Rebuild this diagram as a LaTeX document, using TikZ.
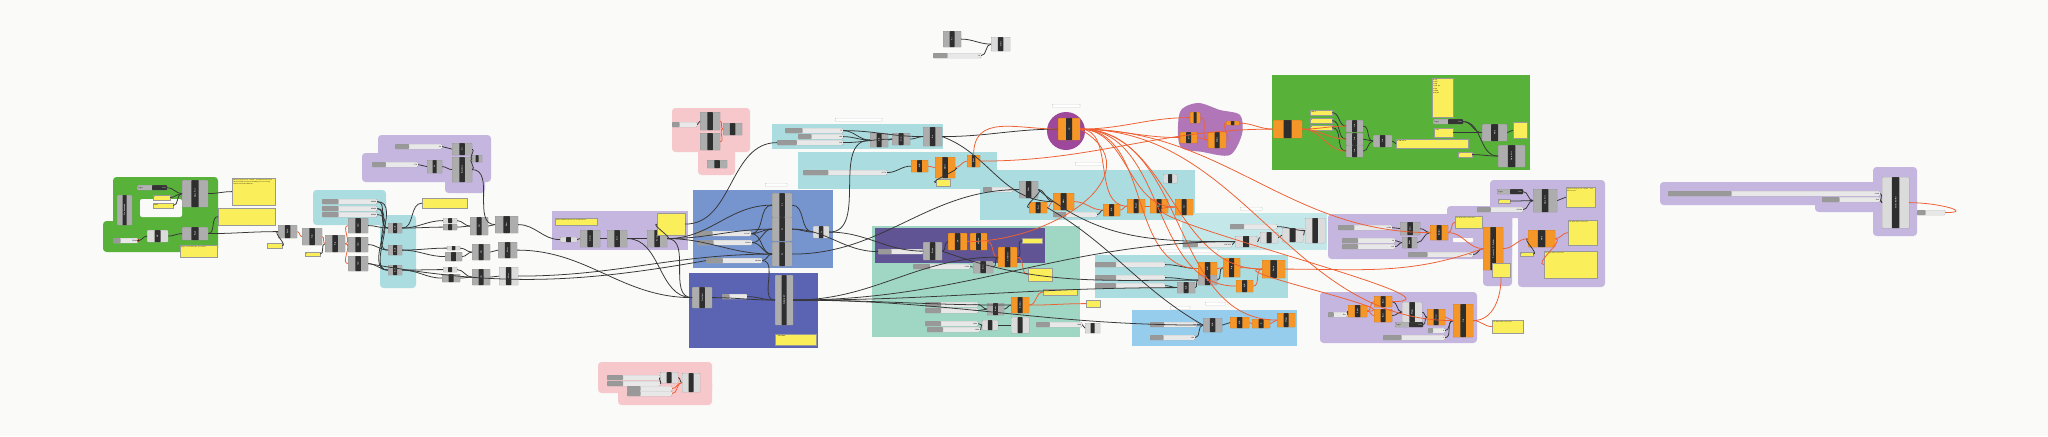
\documentclass[tikz,border=0pt]{standalone}
\usetikzlibrary{calc,positioning}

\definecolor{canvas}{RGB}{250,250,249}
\definecolor{ghorange}{RGB}{244,150,40}
\definecolor{ghyellow}{RGB}{250,238,90}
\definecolor{ghwire}{RGB}{55,55,55}
\definecolor{ghred}{RGB}{240,95,50}
\definecolor{grpgreen}{RGB}{88,178,58}
\definecolor{grppurple}{RGB}{196,182,222}
\definecolor{grpteal}{RGB}{170,220,224}
\definecolor{grpmint}{RGB}{160,214,196}
\definecolor{grpblue}{RGB}{118,148,206}
\definecolor{grpnavy}{RGB}{90,100,178}
\definecolor{grpplum}{RGB}{96,84,148}
\definecolor{grpmagenta}{RGB}{158,72,156}
\definecolor{grporchid}{RGB}{176,118,184}
\definecolor{grppink}{RGB}{246,200,204}
\definecolor{grpsky}{RGB}{150,204,236}

% component, slider, panel, toggle, group tag
\newcommand{\ghc}[6][comp]{%
  \node[#1, minimum width=#4*0.05cm, minimum height=#5*0.05cm] (#2) at (#3) {};
  \node[clbl] at (#2.center) {#6};}
\newcommand{\ghs}[4]{%
  \node[slider, minimum width=#3*0.05cm] (#1) at (#2) {};
  \node[stxt, anchor=east] at ([xshift=-1.5pt]#1.east) {#4};}
\newcommand{\ghp}[5]{%
  \pgfmathsetlengthmacro\pw{#3*0.05cm-3pt}
  \node[panel, minimum width=#3*0.05cm, minimum height=#4*0.05cm] (#1) at (#2) {};
  \node[ptxt, text width=\pw] at ([shift={(1.5pt,-2.2pt)}]#1.north west) {#5};}
\newcommand{\ghtog}[3]{%
  \node[toggle, minimum width=#3*0.05cm] (#1) at (#2) {};
  \node[stxt, anchor=west] at ([xshift=1pt]#1.west) {Toggle};
  \node[stxt, text=white, anchor=east] at ([xshift=-1.5pt]#1.east) {False};}
\newcommand{\ghtag}[3]{\node[tag, minimum width=#3*0.05cm] (#1) at (#2) {};}

\begin{document}
\begin{tikzpicture}[x=0.05cm, y=-0.05cm]

\tikzset{
  comp/.style={anchor=north west, draw=black!55, fill=black!32, rounded corners=0.8pt,
    inner sep=0pt, line width=0.3pt,
    path picture={\fill[black!82] ($(path picture bounding box.south west)!0.36!(path picture bounding box.south east)$)
      rectangle ($(path picture bounding box.north west)!0.64!(path picture bounding box.north east)$);}},
  ocomp/.style={comp, fill=ghorange, draw=ghorange!65!black},
  lcomp/.style={comp, fill=black!14},
  clbl/.style={rotate=90, text=white, inner sep=0pt, font=\sffamily\bfseries\fontsize{2.6}{3}\selectfont},
  slider/.style={anchor=north west, draw=black!45, fill=black!9, rounded corners=1.2pt,
    minimum height=0.25cm, inner sep=0pt, line width=0.3pt,
    path picture={\fill[black!40] (path picture bounding box.south west)
      rectangle ($(path picture bounding box.north west)!0.3!(path picture bounding box.north east)$);}},
  stxt/.style={inner sep=0pt, font=\sffamily\fontsize{2.4}{3}\selectfont},
  panel/.style={anchor=north west, draw=black!40, fill=ghyellow, inner sep=0pt, line width=0.3pt,
    path picture={\fill[black!14] (path picture bounding box.north west)
      rectangle ([yshift=-1.3pt]path picture bounding box.north east);}},
  ptxt/.style={anchor=north west, inner sep=0pt, align=left, font=\ttfamily\fontsize{2.4}{2.9}\selectfont},
  toggle/.style={anchor=north west, draw=black!55, fill=black!30, rounded corners=1pt,
    minimum height=0.25cm, inner sep=0pt, line width=0.3pt,
    path picture={\fill[black!80] ($(path picture bounding box.south west)!0.5!(path picture bounding box.south east)$)
      rectangle (path picture bounding box.north east);}},
  tag/.style={anchor=north west, draw=black!45, fill=white, rounded corners=0.8pt,
    minimum height=0.15cm, inner sep=0pt, line width=0.3pt},
  rc/.style={rounded corners=5pt},
  wire/.style={draw=ghwire, line width=1.1pt},
  owire/.style={draw=ghred, line width=1.1pt}
}

\useasboundingbox (0,0) rectangle (2048,436);
\fill[canvas] (0,0) rectangle (2048,436);

% ---------- groups ----------
\fill[grpgreen, rc] (113,177) rectangle (218,226);
\fill[grpgreen, rc] (103,221) rectangle (218,252);
\fill[canvas, rounded corners=3pt] (140,199) rectangle (182,217);
\fill[grpteal, rc] (313,190) rectangle (386,225);
\fill[grpteal, rc] (380,215) rectangle (416,288);
\fill[grppurple, rc] (378,135) rectangle (491,162);
\fill[grppurple, rc] (362,153) rectangle (491,182);
\fill[grppurple, rc] (445,150) rectangle (485,193);
\fill[grppurple] (552,211) rectangle (688,250);
\fill[grpblue] (693,190) rectangle (833,268);
\fill[grpnavy] (689,273) rectangle (818,348);
\fill[grppink, rc] (672,108) rectangle (750,152);
\fill[grppink, rc] (698,140) rectangle (735,175);
\fill[grppink, rc] (598,362) rectangle (712,393);
\fill[grppink, rc] (618,380) rectangle (712,405);
\fill[grpteal] (772,124) rectangle (943,149);
\fill[grpteal] (798,152) rectangle (997,189);
\fill[grpteal] (980,170) rectangle (1195,220);
\fill[grpmint] (872,226) rectangle (1080,337);
\fill[grpplum] (875,228) rectangle (1045,263);
\fill[grpmagenta] (1066,131) circle (19);
\fill[grporchid] plot[smooth cycle] coordinates {(1180,112) (1198,103) (1220,110) (1240,115) (1242,134) (1230,155) (1203,152) (1180,146)};
\fill[grpteal!70!white] (1182,213) rectangle (1327,250);
\fill[grpteal] (1095,255) rectangle (1288,298);
\fill[grpsky] (1132,310) rectangle (1297,346);
\fill[grpgreen] (1272,75) rectangle (1530,170);
\fill[grppurple, rc] (1328,214) rectangle (1512,259);
\fill[grppurple, rc] (1447,206) rectangle (1512,232);
\fill[grppurple, rc] (1483,206) rectangle (1512,286);
\fill[grppurple, rc] (1490,180) rectangle (1605,218);
\fill[grppurple, rc] (1518,212) rectangle (1605,287);
\fill[canvas, rounded corners=1pt] (1453,238) rectangle (1473,242);
\fill[grppurple, rc] (1320,292) rectangle (1477,343);
\fill[grppurple, rc] (1660,182) rectangle (1885,205);
\fill[grppurple, rc] (1815,192) rectangle (1885,212);
\fill[grppurple, rc] (1873,167) rectangle (1917,236);

% ---------- group tags ----------
\ghtag{tagBlue}{765,183}{22}
\ghtag{tagTop}{835,118}{47}
\ghtag{tagCirc}{1052,104}{28}
\ghtag{tagLarge}{1075,162}{27}
\ghtag{tagRight}{1240,207}{22}
\ghtag{tagTeal}{1163,249}{55}
\ghtag{tagSkyA}{1170,306}{20}
\ghtag{tagSkyB}{1205,302}{20}

% ---------- serial port (green) ----------
\ghc{portavail}{117,195}{15}{30}{Port Available}
\ghtog{toggleA}{137,185}{30}
\ghp{pnBaud}{153,195}{17}{5}{2}
\ghp{pnRate}{153,203}{20}{5}{9600}
\ghc{openport}{182,180}{26}{27}{Open Port}
\ghp{pnNote}{232,178}{43}{27}{The serial port is closed. You must first open the serial port before sending or receiving values from the Arduino.}
\ghp{pnRead}{218,208}{57}{17}{}
\ghs{comsl}{113,238}{25}{COM5}
\fill[red!80!black] (comsl.east) circle (2pt);
\ghc[lcomp]{cr}{147,230}{21}{12}{CR}
\ghc{read}{182,227}{26}{13}{Read}
\ghp{pnOops}{180,245}{37}{12}{Oops, it looks like you tried}

% ---------- points and lines ----------
\ghc{split}{278,225}{19}{13}{Split}
\ghp{pnSep}{267,243}{15}{5}{,}
\ghc{trim}{302,228}{20}{17}{Trim}
\ghp{pnIdx}{305,252}{15}{4}{1}
\ghc{rep}{325,235}{20}{17}{Rep}
\foreach \i/\y in {1/218, 2/237, 3/256} {
  \ghc{item\i}{348,\y}{20}{15}{Item}
}
\ghs{sx}{322,199}{55}{0.0000}
\ghs{sy}{322,206}{55}{0.0000}
\ghs{sz}{322,212}{55}{0.0000}
\foreach \i/\y in {1/223, 2/245, 3/265} {
  \ghc{add\i}{388,\y}{14}{10}{A+B}
}
\ghp{pnXYZ}{422,198}{45}{10}{}

\ghs{radA}{395,144}{47}{90}
\ghs{radB}{372,162}{46}{170}
\ghc{circA}{452,143}{20}{12}{Cir}
\ghc{circB}{427,160}{15}{13}{Cir}
\ghc{bound}{452,157}{20}{25}{Boundary}
\ghc{flip}{472,155}{10}{7}{}

\ghc[lcomp]{ptA1}{443,218}{14}{5}{}
\ghc{ptB1}{443,224}{14}{6}{}
\ghc{line1}{470,217}{18}{18}{Line}
\ghc{move1}{495,216}{23}{17}{Move}
\ghc[lcomp]{ptA2}{447,246}{13}{4}{}
\ghc{ptB2}{445,252}{17}{9}{}
\ghc{line2}{472,244}{18}{16}{Line}
\ghc{move2}{498,242}{19}{16}{Move}
\ghc[lcomp]{ptA3}{443,267}{14}{5}{}
\ghc{ptB3}{442,274}{18}{8}{}
\ghc{line3}{472,269}{18}{16}{Line}
\ghc[lcomp]{move3}{499,267}{19}{18}{Move}

% ---------- planes ----------
\ghp{pnPlane}{555,218}{42}{7}{Plane and Intersection Coordinates}
\ghc[lcomp]{crvIn}{560,237}{17}{5}{}
\ghc{divide}{580,230}{20}{17}{Divide}
\ghc{sort}{607,230}{20}{17}{Sort}
\ghc{plint}{647,230}{20}{17}{PL Int}
\ghp{pnPts}{657,213}{28}{22}{}
\foreach \i/\y in {A/193, B/217, C/242} {
  \ghc{pl\i}{772,\y}{20}{24}{PL}
}
\ghs{slX}{696,231}{55}{81.1807}
\ghs{slY}{697,240}{55}{54.9624}
\ghs{slZ}{706,258}{56}{100.000}
\ghc[lcomp]{lnBlue}{813,226}{16}{12}{Ln}
\ghc{cons}{692,287}{20}{21}{Construct}
\ghs{slName}{722,294}{25}{}
\ghc{planeXY}{775,275}{18}{50}{PLANE XY}
\ghp{pnXZ}{775,334}{41}{11}{\hspace*{3pt}XZ PLANE}

% ---------- pink ----------
\ghs{pkSl}{672,122}{25}{}
\ghc{pkC1}{700,112}{20}{18}{}
\ghc{pkC2}{700,133}{20}{17}{}
\ghc{pkC3}{723,123}{19}{12}{}
\ghc{pkC4}{707,160}{20}{8}{}
\ghs{pbS1}{607,375}{53}{}
\ghs{pbS2}{607,381}{53}{}
\ghs{pbS3}{627,386}{45}{}
\ghs{pbS4}{627,391}{45}{}
\ghc[lcomp]{pbC1}{660,372}{18}{11}{}
\ghc[lcomp]{pbC2}{682,373}{18}{19}{}

\ghc{tiC1}{943,31}{18}{16}{Pt}
\ghc[lcomp]{tiC2}{991,37}{19}{14}{Circle}
\ghs{tiS}{933,53}{48}{50}

% ---------- top teal ----------
\ghs{slT1}{785,128}{58}{75}
\ghs{slT2}{798,134}{45}{360}
\ghs{slT3}{777,140}{66}{180}
\ghc{ab}{870,133}{18}{14}{A/B}
\ghc{dom}{892,133}{18}{12}{Dom}
\ghc{arc}{923,127}{19}{19}{Arc}
\ghs{slScale}{803,170}{84}{0.770}
\ghc[ocomp]{ob1}{911,160}{17}{12}{A/B}
\ghc[ocomp]{ob2}{935,157}{20}{21}{Multi}
\ghc[ocomp]{ob3}{967,155}{13}{12}{Eval}
\ghp{pnT2}{936,179}{14}{7}{}

% ---------- large teal ----------
\ghs{slL}{983,187}{30}{0.50}
\ghc{gL}{1019,181}{19}{17}{Filter}
\ghc[ocomp]{oL1}{1029,202}{18}{11}{Sort}
\ghc[ocomp]{oL2}{1053,193}{21}{17}{Wave}
\ghs{slL2}{1053,212}{44}{}
\ghc[ocomp]{oL3}{1103,204}{17}{12}{A/B}
\ghc[ocomp]{oL4}{1127,199}{18}{14}{Round}
\ghc[ocomp]{oL5}{1150,199}{18}{14}{Deg}
\ghc[ocomp]{oL6}{1175,199}{18}{16}{Int}
\ghc[lcomp]{gL2}{1163,174}{14}{9}{}
\ghc[ocomp]{oC}{1058,118}{22}{22}{IK}
\ghc[ocomp]{oB1}{1190,112}{10}{11}{}
\ghc[ocomp]{oB2}{1226,121}{13}{4}{}
\ghc[ocomp]{oB3}{1180,132}{17}{11}{Sort}
\ghc[ocomp]{oB4}{1208,132}{18}{16}{Values}

% ---------- mint / plum ----------
\ghs{slM}{878,249}{45}{360}
\ghc{gM1}{923,242}{19}{18}{Rotate}
\ghc[ocomp]{oM1}{948,233}{19}{17}{CP}
\ghc[ocomp]{oM2}{970,233}{17}{17}{pRotate}
\ghp{pnM1}{1022,238}{20}{5}{}
\ghc[ocomp]{oM3}{998,247}{19}{20}{Construct}
\ghs{slM2}{913,264}{57}{0.500}
\ghc{gM2}{973,261}{20}{12}{Deco}
\ghp{pnM2}{1028,268}{24}{13}{}
\ghp{pnM3}{1043,289}{34}{6}{}
\ghp{pnM4}{1086,300}{14}{7}{}
\ghs{slM3}{925,302}{53}{0.500}
\ghs{slM4}{925,308}{53}{1.500}
\ghc{gM3}{987,303}{17}{12}{Bnds}
\ghc[ocomp]{oM4}{1011,297}{18}{16}{Builder}
\ghs{slM5}{925,321}{53}{1.000}
\ghs{slM6}{927,327}{53}{1.000}
\ghc[lcomp]{gM4}{982,320}{16}{10}{}
\ghc[lcomp]{gM5}{1011,317}{18}{16}{}
\ghs{slM7}{1036,322}{46}{1.000}
\ghc[lcomp]{gM6}{1085,323}{15}{10}{}

% ---------- right teal / sky ----------
\ghs{slR1}{1230,224}{47}{}
\ghs{slR2}{1183,242}{49}{2207.955}
\ghc[lcomp]{gR1}{1235,236}{22}{11}{}
\ghc[lcomp]{gR2}{1260,232}{18}{11}{}
\ghc[lcomp]{gR3}{1282,228}{21}{14}{}
\ghc[lcomp]{gR4}{1305,218}{20}{25}{}
\ghs{slS1}{1095,262}{70}{}
\ghs{slS2}{1095,275}{70}{}
\ghs{slS3}{1095,283}{70}{}
\ghc{gS1}{1177,282}{18}{11}{A/B}
\ghc[ocomp]{oS1}{1198,262}{19}{13}{A/B}
\ghc{gS2}{1198,275}{19}{10}{Max}
\ghc[ocomp]{oS2}{1223,258}{17}{19}{Avg}
\ghc[ocomp]{oS3}{1236,280}{17}{12}{A/B}
\ghc[ocomp]{oS4}{1262,260}{23}{18}{Speed}
\ghs{slK1}{1150,322}{47}{1.00}
\ghs{slK2}{1150,335}{45}{1.00}
\ghc{gK1}{1203,318}{19}{14}{A/B}
\ghc[ocomp]{oK1}{1230,317}{19}{11}{A/B}
\ghc[ocomp]{oK2}{1252,319}{18}{9}{X}
\ghc[ocomp]{oK3}{1277,313}{18}{14}{Merge}

% ---------- green right ----------
\ghc[ocomp]{oG}{1273,120}{29}{18}{}
\foreach \i/\y/\t in {1/110/100.0, 2/118/0, 3/125/0} {
  \ghp{pnG\i}{1310,\y}{22}{5}{\t}
}
\foreach \i/\y in {1/120, 2/133, 3/145} {
  \ghc{gG\i}{1346,\y}{17}{12}{Join}
}
\ghc{gG4}{1373,135}{19}{12}{Join}
\ghp{pnG4}{1396,139}{72}{9}{0 100 0 0 0}
\ghp{pnG5}{1432,78}{21}{39}{0 \{0\}\\1 M117\\2 G28\\3 G91 X0\\4 M82\\5 M106\\6 G0 X0}
\ghtog{togG}{1433,119}{30}
\ghp{pnG6}{1434,128}{19}{9}{\;0.01}
\ghc{writeG}{1482,124}{25}{17}{Write}
\ghp{pnG7}{1513,122}{14}{16}{}
\ghp{pnG8}{1458,152}{14}{5}{1}
\ghc{openG}{1498,145}{27}{22}{Open Port}

% ---------- purple right ----------
\ghtog{togP}{1497,189}{26}
\ghp{pnP1}{1498,199}{12}{4}{1}
\ghs{slP1}{1477,207}{46}{115200}
\ghc{openP}{1533,189}{24}{23}{Open Port}
\ghp{pnP2}{1566,187}{29}{20}{The serial port is closed. You must first}
\ghs{slP2}{1338,225}{54}{0.500}
\ghs{slP3}{1342,238}{53}{40}
\ghs{slP4}{1342,244}{53}{230}
\ghc{gP1}{1400,222}{20}{13}{Deco}
\ghc{gP2}{1402,237}{15}{11}{Bnds}
\ghc[ocomp]{oP1}{1430,225}{18}{15}{Builder}
\ghp{pnP3}{1455,216}{27}{12}{\;No data was collected}
\ghs{slP5}{1408,252}{65}{361}
\ghc[ocomp]{oP2}{1483,227}{20}{43}{Conversion To Arduino}
\ghp{pnP4}{1492,263}{18}{14}{}
\ghc[ocomp]{writeP}{1528,230}{27}{17}{Write}
\ghp{pnP5}{1520,252}{13}{4}{1}
\ghp{pnP6}{1568,220}{29}{25}{\;No data was collected}
\ghp{pnP7}{1544,251}{53}{27}{\;No data was collected}
\ghs{slQ1}{1328,312}{19}{Dev}
\ghc[ocomp]{oQ1}{1348,305}{19}{12}{Split}
\ghc[ocomp]{oQ2}{1374,296}{18}{11}{Bool}
\ghc[ocomp]{oQ3}{1374,309}{18}{13}{Bool}
\ghc[lcomp]{gQ1}{1402,302}{20}{20}{Merge}
\ghc[ocomp]{oQ4}{1427,309}{18}{16}{Item}
\ghtog{togQ}{1395,322}{28}
\ghs{slQ2}{1428,328}{17}{0}
\ghs{slQ3}{1383,335}{62}{1}
\ghc[ocomp]{logQ}{1453,304}{20}{33}{Log}
\ghp{pnQ}{1492,320}{31}{13}{\;No data was collected}

% ---------- far right ----------
\ghs{slF1}{1668,191}{212}{0.500}
\ghs{slF2}{1822,197}{58}{90.0}
\ghc[lcomp]{gF}{1882,177}{27}{51}{Gcode Builder}
\ghs{slF3}{1917,210}{28}{}

% ---------- wires ----------
\foreach \a/\b in {toggleA/openport, pnBaud/openport, pnRate/openport, openport/pnNote,
  comsl/cr, cr/read, read/split, read/pnRead, pnSep/split, pnIdx/rep,
  item1/add1, item2/add2, item3/add3, sx/add1, sy/add2, sz/add3, sx/add3, sy/add1,
  add1/pnXYZ, add1/ptA1, add1/ptB1, add2/ptB2, add3/ptB3, add2/ptA2, add3/ptA3,
  ptA1/line1, ptB1/line1, ptA2/line2, ptB2/line2, ptA3/line3, ptB3/line3,
  line1/move1, line2/move2, line3/move3,
  radA/circA, radB/circB, circB/bound, circA/flip, bound/flip,
  move1/crvIn, divide/sort, sort/plint, plint/pnPts, crvIn/divide,
  plint/plA, plint/plB, plint/plC, slX/plA, slX/plB, slY/plB, slY/plC, slZ/plC, slX/plC,
  plA/lnBlue, plB/lnBlue, cons/planeXY, slName/planeXY, slZ/planeXY,
  pkSl/pkC1, pbS1/pbC1, pbS2/pbC1, pbC1/pbC2, tiC1/tiC2, tiS/tiC2,
  slT1/ab, slT2/ab, slT3/dom, ab/dom, dom/arc, slT1/arc, slScale/ob1, ob2/pnT2,
  slL/gL, gL/oL1, gL/oL2, slL2/oL3,
  slM/gM1, gM1/oM1, oM3/pnM1, slM2/gM2, gM2/oM3, slM3/gM3, slM4/gM3, gM3/oM4,
  slM5/gM4, slM6/gM4, gM4/gM5, slM7/gM6,
  slR1/gR4, slR2/gR1, gR1/gR2, gR2/gR3, gR3/gR4,
  slS1/oS1, slS2/gS2, slS3/gS1, gS1/gS2, gS2/oS2, slK1/gK1, slK2/gK1, gK1/oK1,
  pnG1/gG1, pnG2/gG2, pnG3/gG3, gG1/gG4, gG2/gG4, gG3/gG4, gG4/pnG4,
  togG/writeG, pnG6/writeG, writeG/pnG7, pnG8/openG, togG/openG,
  togP/openP, pnP1/openP, slP1/openP, openP/pnP2, slP2/gP1, slP3/gP2, slP4/gP2,
  gP1/oP1, gP2/oP1, slP5/oP2, pnP5/writeP, slQ1/oQ1, oQ2/gQ1, oQ3/gQ1, gQ1/oQ4,
  togQ/oQ4, slQ3/logQ, slQ2/logQ, slF1/gF, slF2/gF}
  \draw[wire] (\a.east) to[out=0, in=180] (\b.west);

\foreach \a/\b in {split/trim, trim/rep, rep/item1, rep/item2, rep/item3,
  pkC1/pkC3, pkC2/pkC3, pbS3/pbC2, pbS4/pbC2,
  ob1/ob2, ob2/ob3, oL1/oL2, oL2/oL3, oL3/oL4, oL4/oL5, oL5/oL6,
  oB1/oB4, oB3/oB4, oB4/oB2, oM1/oM2, oM2/oM3, oM3/pnM2, oM4/pnM3, oM4/pnM4,
  oS1/oS2, oS2/oS4, oS3/oS4, oK1/oK2, oK2/oK3,
  oG/gG1, oG/gG2, oG/gG3, oP1/pnP3, oP1/oP2, oP2/writeP, writeP/pnP6, writeP/pnP7,
  oQ1/oQ2, oQ1/oQ3, oQ4/logQ, logQ/pnQ, oC/oB3, oC/oL4, oC/oL6, oC/oS4, oC/oK3,
  oC/logQ, oC/oS1, oC/oS3, oC/oB1, oC/oP1, oQ1/oS4, oQ2/oL6}
  \draw[owire] (\a.east) to[out=0, in=180] (\b.west);

% long connections across the canvas
\draw[wire] (bound.east) to[out=0, in=180] (move1.west);
\draw[wire] (move3.east) to[out=0, in=180] (plC.west);
\draw[wire] (move2.east) to[out=0, in=180] (cons.west);
\draw[wire] (plint.east) to[out=0, in=180] (cons.west);
\draw[wire] (sort.east) to[out=0, in=180] (cons.west);
\draw[wire] (item3.east) to[out=-10, in=190] (slZ.west);
\draw[wire] (lnBlue.east) to[out=0, in=180] (ab.west);
\draw[wire] (plC.east) to[out=0, in=180] (gL.west);
\draw[wire] (lnBlue.east) to[out=0, in=180] (gM1.west);
\draw[wire] (planeXY.east) to[out=0, in=180] (oM3.west);
\draw[wire] (planeXY.east) to[out=0, in=180] (gS1.west);
\draw[wire] (planeXY.east) to[out=0, in=180] (gR1.west);
\draw[wire] (planeXY.east) to[out=0, in=180] (oM4.west);
\draw[wire] (planeXY.east) to[out=0, in=180] (gK1.west);
\draw[wire] (plB.east) to[out=0, in=180] (slM.west);
\draw[wire] (pnPts.east) to[out=0, in=180] (slT3.west);
\draw[wire] (arc.east) to[out=0, in=180] (oC.west);
\draw[wire] (arc.east) to[out=-20, in=180] (oL2.west);
\draw[wire] (oL1.east) to[out=-30, in=150] (gK1.west);
\draw[wire] (gL.east) to[out=-40, in=180] (gR1.west);
\draw[wire] (gM1.east) to[out=-20, in=180] (gS2.west);
\draw[owire] (oC.east) to[out=-30, in=0, looseness=1.4] (oM1.east);
\draw[owire] (oC.west) to[out=180, in=90, looseness=1.2] (ob3.north);
\draw[owire] (logQ.east) to[out=0, in=-90] (pnP4.south);
\draw[owire] (oP2.west) to[out=200, in=0] (oS4.east);
\draw[owire] (gF.east) to[out=0, in=0, looseness=2] (slF3.east);
\draw[owire] (ob3.east) to[out=0, in=180] (oG.west);
\draw[owire] (oB2.east) to[out=0, in=180] (oG.west);

\end{tikzpicture}
\end{document}
